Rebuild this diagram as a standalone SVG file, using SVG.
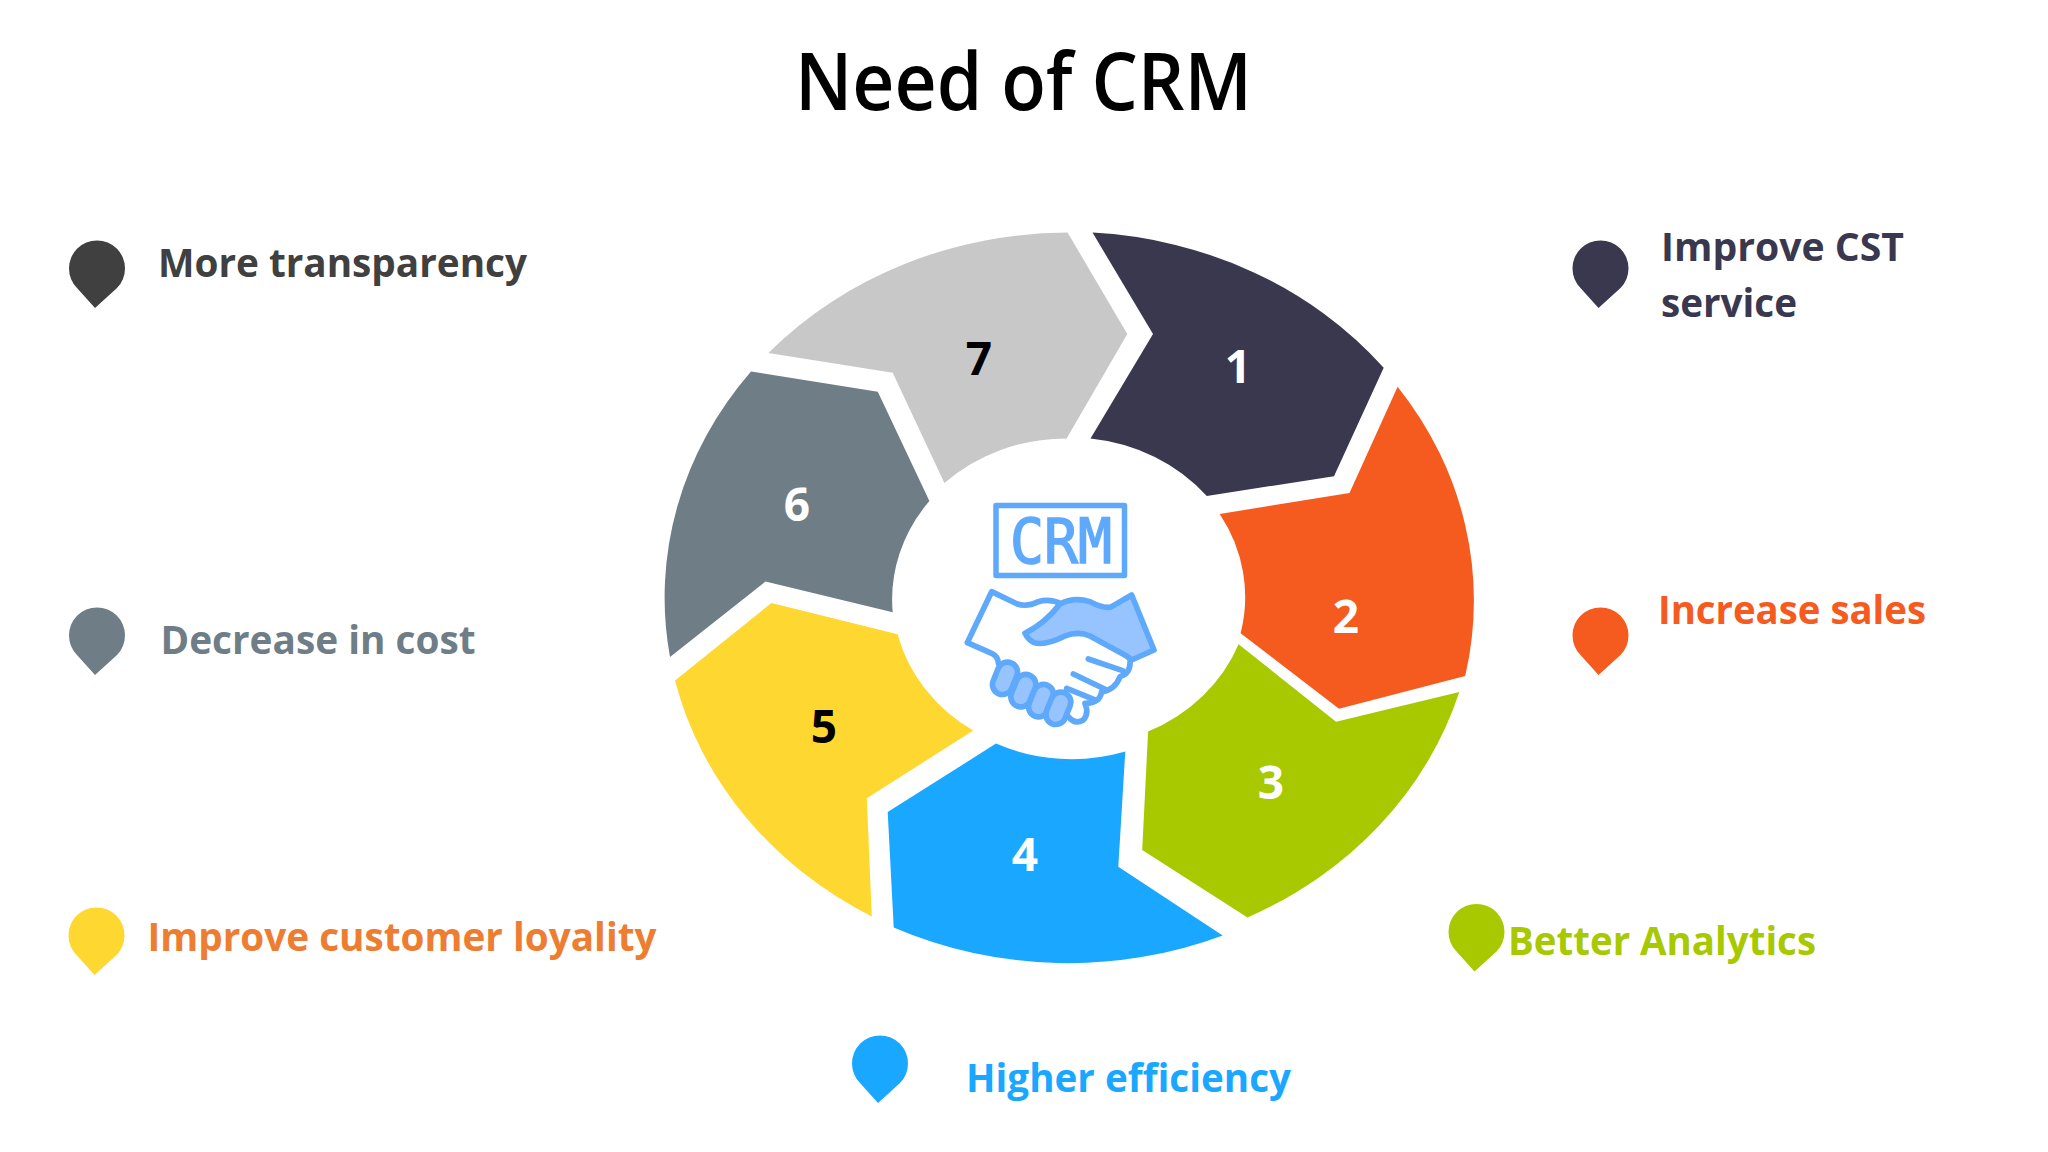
<svg xmlns="http://www.w3.org/2000/svg" width="2048" height="1152" viewBox="0 0 2048 1152">
<style>
text{font-family:"Open Sans","Noto Sans","Liberation Sans",sans-serif}
.t{font-size:80px;font-weight:600;fill:#000}
.l{font-size:40px;font-weight:700}
.n{font-size:46px;font-weight:700;text-anchor:middle}
.w{fill:#fff}.k{fill:#000}
.ic{stroke:#5ea9fb;stroke-linejoin:round;stroke-linecap:round}
</style>
<defs><path id="pin" d="M-2 40L-20 20A28 28 0 1 1 20 20Z"/></defs>
<rect width="2048" height="1152" fill="#fff"/>
<text id="title" class="t" x="795" y="110" textLength="457" lengthAdjust="spacingAndGlyphs">Need of CRM</text>
<g id="ring">
<g id="seg1"><path fill="#39384f" d="M1092.5 232.6A405 366 0 0 1 1383.7 367.8L1334 476.2L1206.8 496A176 160 0 0 0 1090.5 438.4L1153 334Z"/><text class="n w" x="1238" y="383">1</text></g>
<g id="seg2"><path fill="#f55a1e" d="M1397.6 386.7A405 366 0 0 1 1465.2 676L1339 708.8L1240.6 633.2A176 160 0 0 0 1219.7 513.9L1349.5 493.1Z"/><text class="n w" x="1346" y="633">2</text></g>
<g id="seg3"><path fill="#a8c800" d="M1459.3 691.9A405 366 0 0 1 1247.5 917.5L1142.2 849.9L1148.1 731.6A176 160 0 0 0 1238.6 644.2L1336 721.7Z"/><text class="n w" x="1271" y="799">3</text></g>
<g id="seg4"><path fill="#1aa7ff" d="M1222.7 935.4A405 366 0 0 1 893.7 927.5L887.7 812.1L996 743.6A176 160 0 0 0 1125.3 751.5L1118.3 866.8Z"/><text class="n w" x="1025" y="871">4</text></g>
<g id="seg5"><path fill="#ffd731" d="M871.8 916.5A405 366 0 0 1 675 680.5L771.4 603L897.6 634.2A176 160 0 0 0 973.2 730.6L866.8 798.2Z"/><text class="n k" x="824" y="743">5</text></g>
<g id="seg6"><path fill="#6f7d87" d="M670 657A405 366 0 0 1 751 371.5L877.8 391.7L929.4 501A176 160 0 0 0 892.7 612.3L765.5 581.5Z"/><text class="n w" x="797" y="521">6</text></g>
<g id="seg7"><path fill="#c8c8c8" d="M768.4 352.9A405 366 0 0 1 1067.6 232.6L1127.3 334L1066.6 438.4A176 160 0 0 0 944.4 483.1L892.7 372.8Z"/><text class="n k" x="979" y="375">7</text></g>
</g>
<g id="crm-icon">
<rect class="ic" stroke-width="5.5" x="996" y="505.5" width="128.5" height="70" fill="none"/>
<text x="1061" y="563" text-anchor="middle" font-size="62" font-weight="400" textLength="102" lengthAdjust="spacingAndGlyphs" style="font-family:'DejaVu Sans Mono',monospace" fill="#5ea9fb" stroke="#5ea9fb" stroke-width="1.6">CRM</text>
<g transform="translate(930 480) scale(.3333)" stroke-width="17">
<path class="ic" fill="#fff" d="M185 335L262 372Q290 382 325 365Q360 355 395 372L600 535Q605 580 570 590Q555 630 515 635Q510 670 465 670Q478 700 460 720Q435 735 415 710L205 550Q205 530 185 520L112 488Z"/>
<path class="ic" fill="#97c4ff" d="M390 372Q430 350 480 365Q525 388 545 380L605 345L672 510L605 540L590 528L480 468Q445 452 405 468Q345 498 312 488Q295 480 285 460Q345 430 390 372Z"/>
<path class="ic" fill="none" d="M475 537L578 572M430 582L530 630M410 625L495 660"/>
<g class="ic" fill="#97c4ff">
<rect x="-30" y="-50" width="60" height="100" rx="30" transform="translate(225 595) rotate(22)"/>
<rect x="-30" y="-50" width="60" height="100" rx="30" transform="translate(280 632) rotate(22)"/>
<rect x="-30" y="-50" width="60" height="100" rx="30" transform="translate(333 662) rotate(22)"/>
<rect x="-30" y="-50" width="60" height="100" rx="30" transform="translate(385 685) rotate(22)"/>
</g>
</g>
</g>
<g id="item-more"><use href="#pin" x="97" y="268" fill="#404040"/><text class="l" x="158" y="277" textLength="369" lengthAdjust="spacingAndGlyphs" fill="#404040">More transparency</text></g>
<g id="item-cst"><use href="#pin" x="1600.5" y="268" fill="#39384f"/><text class="l" x="1661" y="261" textLength="243" lengthAdjust="spacingAndGlyphs" fill="#39384f">Improve CST</text><text class="l" x="1661" y="317" textLength="136" lengthAdjust="spacingAndGlyphs" fill="#39384f">service</text></g>
<g id="item-cost"><use href="#pin" x="97" y="635" fill="#6f7d87"/><text class="l" x="160.5" y="654" textLength="315" lengthAdjust="spacingAndGlyphs" fill="#6f7d87">Decrease in cost</text></g>
<g id="item-sales"><use href="#pin" x="1600.5" y="635" fill="#f55a1e"/><text class="l" x="1658" y="624" textLength="268" lengthAdjust="spacingAndGlyphs" fill="#f55a1e">Increase sales</text></g>
<g id="item-loyal"><use href="#pin" x="96.5" y="935" fill="#ffd731"/><text class="l" x="147.5" y="950.5" textLength="509" lengthAdjust="spacingAndGlyphs" fill="#ed7d31">Improve customer loyality</text></g>
<g id="item-analytics"><use href="#pin" x="1476.5" y="931.5" fill="#a8c800"/><text class="l" x="1508" y="955" textLength="308" lengthAdjust="spacingAndGlyphs" fill="#a8c800">Better Analytics</text></g>
<g id="item-eff"><use href="#pin" x="880" y="1063" fill="#1aa7ff"/><text class="l" x="966" y="1092" textLength="325" lengthAdjust="spacingAndGlyphs" fill="#1aa7ff">Higher efficiency</text></g>
</svg>
